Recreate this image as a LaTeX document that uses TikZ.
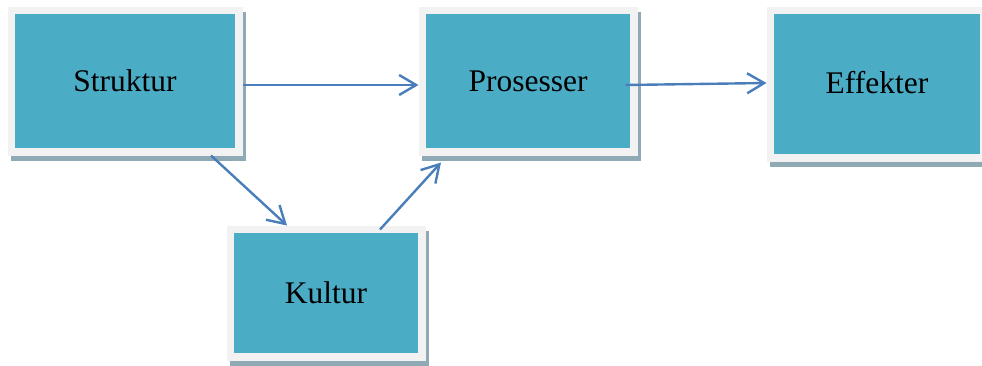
\documentclass[tikz,border=0pt]{standalone}
\usepackage{fontspec}
\setmainfont{Liberation Serif}
\usetikzlibrary{arrows.meta}
\definecolor{boxfill}{HTML}{4BACC6}
\definecolor{boxrim}{HTML}{F2F2F2}
\definecolor{boxshade}{HTML}{8FA9B5}
\definecolor{linkc}{HTML}{4A7EBB}
\tikzset{
  box/.style={rectangle, fill=boxfill, draw=boxrim, line width=7.5pt,
    inner sep=0pt, outer sep=3.75pt,
    font=\fontsize{31.5}{37}\selectfont, text=black,
    preaction={fill=boxshade, draw=boxshade, line width=7.5pt,
      transform canvas={shift={(3pt,-5pt)}}}},
  link/.style={draw=linkc, line width=2.4pt,
    -{Straight Barb[length=17pt,width=20pt,line width=2.4pt]}}
}
\begin{document}
\begin{tikzpicture}[x=1pt,y=-1pt]
  \useasboundingbox[fill=white] (0,0) rectangle (982,365);
  % boxes
  \node[box, minimum width=227.5pt, minimum height=141.5pt] (struktur) at (125,81) {Struktur};
  \node[box, minimum width=211.5pt, minimum height=141.5pt] (prosesser) at (528,81) {Prosesser};
  \node[box, minimum width=213.5pt, minimum height=147.5pt] (effekter) at (877,84) {\raisebox{3pt}{Effekter}};
  \node[box, minimum width=191.5pt, minimum height=127.5pt] (kultur) at (326,293) {\raisebox{-5pt}{Kultur}};
  % connectors
  \draw[link] ([yshift=-4pt]struktur.east) -- ([yshift=-4pt]prosesser.west);
  \draw[link] ([xshift=86pt]struktur.south) -- ([xshift=-39pt]kultur.north);
  \draw[link] ([xshift=54pt,yshift=-4pt]kultur.north) -- ([xshift=-87pt,yshift=-7pt]prosesser.south);
  \draw[link] ([xshift=-12pt,yshift=-4pt]prosesser.east) -- ([yshift=1pt]effekter.west);
\end{tikzpicture}
\end{document}
